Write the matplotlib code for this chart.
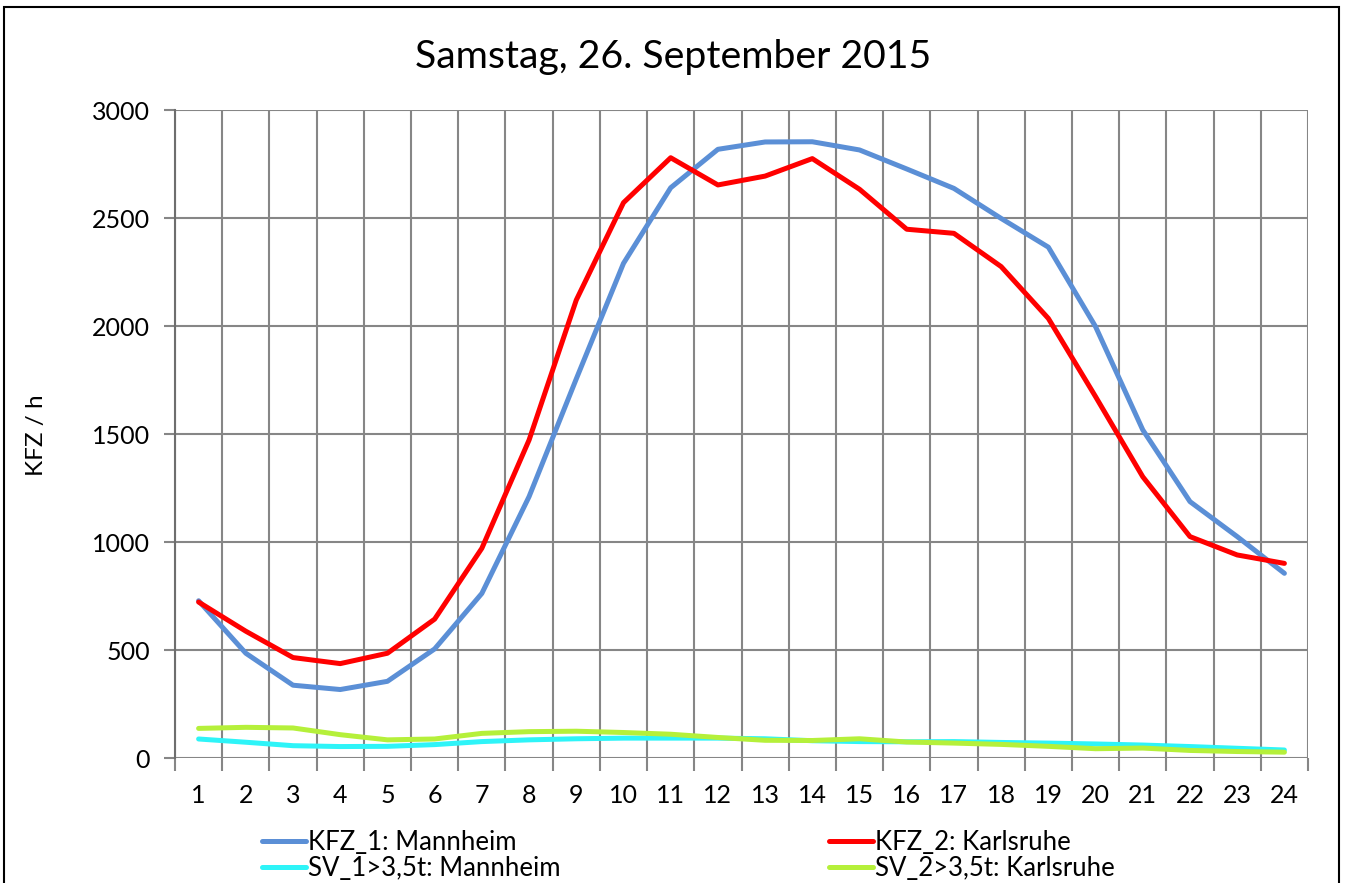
import matplotlib
matplotlib.use("Agg")
import matplotlib.pyplot as plt
import matplotlib.patches as patches
from matplotlib.ticker import FixedLocator

plt.rcParams['font.family'] = ['Lato', 'DejaVu Sans']

# hours of the day
hours = list(range(1, 25))

# vehicles per hour
kfz_mannheim = [728, 485, 337, 317, 355, 505, 762, 1210, 1755, 2290, 2640, 2818,
                2852, 2853, 2815, 2727, 2637, 2498, 2365, 1997, 1519, 1187, 1025, 855]
kfz_karlsruhe = [722, 587, 465, 437, 485, 643, 971, 1472, 2120, 2571, 2779, 2653,
                 2694, 2775, 2633, 2448, 2429, 2275, 2035, 1673, 1302, 1025, 940, 901]
sv_mannheim = [88, 73, 57, 53, 54, 62, 76, 84, 89, 92, 92, 92,
               89, 80, 76, 75, 76, 72, 69, 65, 60, 53, 45, 37]
sv_karlsruhe = [137, 142, 139, 108, 84, 88, 114, 122, 124, 118, 110, 95,
                82, 81, 89, 74, 69, 63, 54, 43, 46, 35, 30, 27]

y_ticks = [0, 500, 1000, 1500, 2000, 2500, 3000]

title = "Samstag, 26. September 2015"
y_label = "KFZ / h"

W, H = 1346, 883
fig = plt.figure(figsize=(W / 100, H / 100), dpi=100)
ax = fig.add_axes([175 / W, 1 - 758 / H, (1308 - 175) / W, (758 - 110) / H])

grid_col = '#868686'
lw = 3.6
l1, = ax.plot(hours, kfz_mannheim, color='#5B8FD6', lw=lw, solid_capstyle='round',
              solid_joinstyle='round', label='KFZ_1: Mannheim')
l2, = ax.plot(hours, kfz_karlsruhe, color='#FF0000', lw=lw, solid_capstyle='round',
              solid_joinstyle='round', label='KFZ_2: Karlsruhe')
l3, = ax.plot(hours, sv_mannheim, color='#2EF4F8', lw=lw, solid_capstyle='round',
              solid_joinstyle='round', label='SV_1>3,5t: Mannheim')
l4, = ax.plot(hours, sv_karlsruhe, color='#B5F03A', lw=lw, solid_capstyle='round',
              solid_joinstyle='round', label='SV_2>3,5t: Karlsruhe')

ax.set_xlim(0.5, len(hours) + 0.5)
ax.set_ylim(0, 3000)

# category labels in the middle, grid/ticks on the boundaries (Excel style)
ax.set_xticks(hours)
ax.set_xticklabels([str(h) for h in hours])
ax.xaxis.set_minor_locator(FixedLocator([h - 0.5 for h in hours] + [len(hours) + 0.5]))
ax.set_yticks(y_ticks)

ax.tick_params(axis='x', which='major', length=0, pad=19, labelsize=18)
ax.tick_params(axis='x', which='minor', length=9, width=1.5, color=grid_col, direction='out')
ax.tick_params(axis='y', which='major', length=8, width=1.5, color=grid_col, pad=10, labelsize=18)

ax.grid(True, which='minor', axis='x', color=grid_col, lw=1.5)
ax.grid(True, which='major', axis='y', color=grid_col, lw=1.5)
ax.set_axisbelow(True)

for side in ['top', 'right', 'bottom']:
    ax.spines[side].set_visible(False)
ax.spines['left'].set_color('#6E6E6E')
ax.spines['left'].set_linewidth(1.5)

fig.text(673 / W, 1 - 57 / H, title, ha='center', va='center', fontsize=28.3)
fig.text(37 / W, 1 - 435 / H, y_label, ha='center', va='center', rotation=90, fontsize=17.5)

# legend in two columns, placed separately
leg_kw = dict(frameon=False, fontsize=18.5, handlelength=1.7, handletextpad=0.08,
              borderpad=0, borderaxespad=0, labelspacing=0.05, loc='upper left')
leg1 = fig.legend(handles=[l1, l3], bbox_to_anchor=(262 / W, 1 - 830 / H), **leg_kw)
leg2 = fig.legend(handles=[l2, l4], bbox_to_anchor=(829 / W, 1 - 830 / H), **leg_kw)

# outer chart border
fig.patches.append(patches.Rectangle((4 / W, -0.05), (1339 - 4) / W, 1 - 7 / H + 0.05,
                                     transform=fig.transFigure, fill=False,
                                     edgecolor='black', lw=1.5))

fig.savefig('out.png', dpi=100)
